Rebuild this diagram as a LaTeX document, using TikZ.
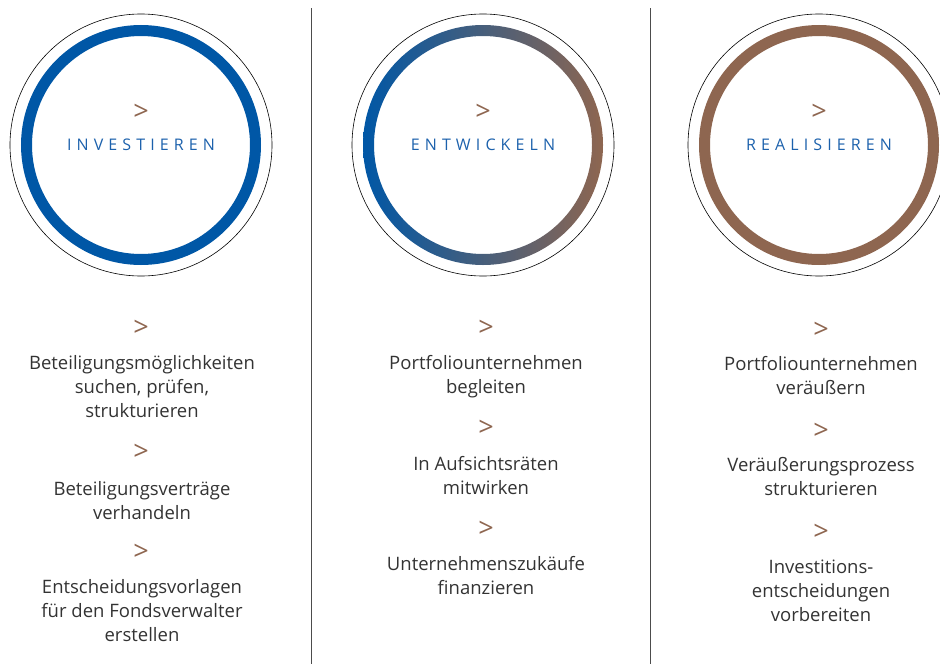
\documentclass[tikz,border=0pt]{standalone}
\usepackage{fontspec}
\setmainfont{Open Sans}
\usetikzlibrary{positioning}

\definecolor{fundblue}{HTML}{0057A6}
\definecolor{fundbrown}{HTML}{8E6650}
\definecolor{headblue}{HTML}{1C61AC}
\definecolor{bodygray}{HTML}{333333}

\tikzset{ring/.style={line width=11pt}}
\tikzset{frame/.style={draw=black, line width=0.6pt}}
\tikzset{divider/.style={draw=black!70, line width=0.7pt}}
\tikzset{chev/.style=
   {text=fundbrown,
    inner sep=0pt,
    font=\fontsize{27}{27}\selectfont}}
\tikzset{phase/.style=
   {text=headblue,
    inner sep=0pt,
    font=\fontsize{16}{16}\selectfont\addfontfeature{LetterSpace=32}}}
\tikzset{task/.style=
   {text=bodygray,
    align=center,
    anchor=north,
    inner sep=0pt,
    font=\fontsize{18.5}{24}\selectfont}}

\begin{document}
\begin{tikzpicture}[x=1pt,y=-1pt]
    \useasboundingbox (0,0) rectangle (940,664);

    % Centres
    \coordinate (c1) at (141,145);
    \coordinate (c2) at (483,145);
    \coordinate (c3) at (819,145);

    % Dividers
    \draw [divider] (311,8) -- (311,664);
    \draw [divider] (650,8) -- (650,664);

    % Rings
    \draw [frame] (c1) circle [radius=131pt];
    \draw [frame] (c2) circle [radius=131pt];
    \draw [frame] (c3) circle [radius=131pt];
    \draw [ring, fundblue] (c1) circle [radius=114.5pt];
    \shade [left color=fundblue, right color=fundbrown, even odd rule]
    (c2) circle [radius=120pt] (c2) circle [radius=109pt];
    \draw [ring, fundbrown] (c3) circle [radius=114.5pt];

    % Phase titles
    \node [chev] (top1) at (141,112) {>};
    \node [phase] (investieren) at (c1) {INVESTIEREN};
    \node [chev] (top2) at (483,112) {>};
    \node [phase] (entwickeln) at (c2) {ENTWICKELN};
    \node [chev] (top3) at (819,112) {>};
    \node [phase] (realisieren) at (c3) {REALISIEREN};

    % Column 1
    \node [chev] (chevA1) at (141,328) {>};
    \node [task] (taskA1) at (142,355) {Beteiligungsmöglichkeiten\\suchen, prüfen,\\strukturieren};
    \node [chev] (chevA2) at (141,452) {>};
    \node [task] (taskA2) at (142,481) {Beteiligungsverträge\\verhandeln};
    \node [chev] (chevA3) at (141,552) {>};
    \node [task] (taskA3) at (142,579) {Entscheidungsvorlagen\\für den Fondsverwalter\\erstellen};

    % Column 2
    \node [chev] (chevB1) at (486,328) {>};
    \node [task] (taskB1) at (486,355) {Portfoliounternehmen\\begleiten};
    \node [chev] (chevB2) at (486,428) {>};
    \node [task] (taskB2) at (486,456) {In Aufsichtsräten\\mitwirken};
    \node [chev] (chevB3) at (486,529) {>};
    \node [task] (taskB3) at (486,556) {Unternehmenszukäufe\\finanzieren};

    % Column 3
    \node [chev] (chevC1) at (821,330) {>};
    \node [task] (taskC1) at (821,356) {Portfoliounternehmen\\veräußern};
    \node [chev] (chevC2) at (821,431) {>};
    \node [task] (taskC2) at (821,457) {Veräußerungsprozess\\strukturieren};
    \node [chev] (chevC3) at (821,532) {>};
    \node [task] (taskC3) at (821,560) {Investitions-\\entscheidungen\\vorbereiten};

\end{tikzpicture}
\end{document}
